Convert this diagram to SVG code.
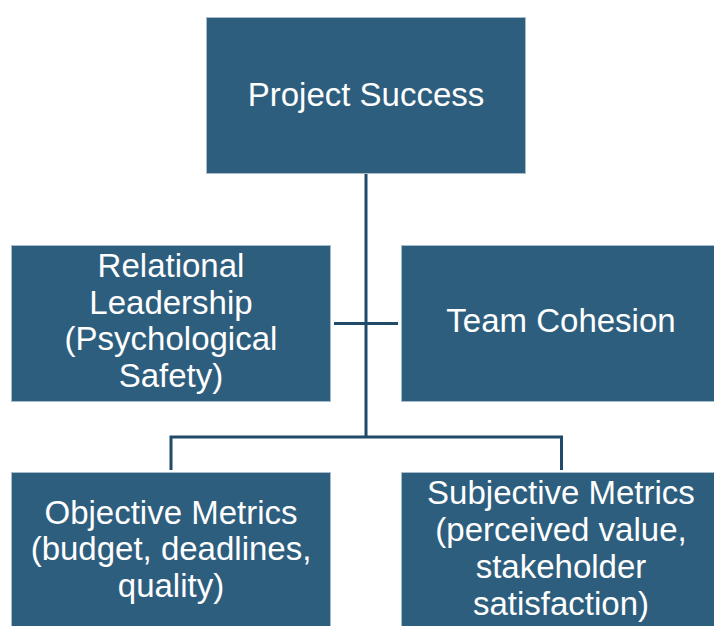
<svg xmlns="http://www.w3.org/2000/svg" width="714" height="626" viewBox="0 0 714 626">
  <style>
    .box { fill: #2e5e7e; stroke: #a9bccb; stroke-width: 1; }
    .label { fill: #ffffff; font-family: "Liberation Sans", Arial, sans-serif; font-size: 33px; text-anchor: middle; }
    .wire { fill: none; stroke: #1f4b68; stroke-width: 3; }
  </style>
  <rect width="714" height="626" fill="#ffffff"/>

  <!-- connectors -->
  <g id="connectors">
    <line class="wire" x1="366" y1="174" x2="366" y2="437"/>
    <line class="wire" x1="334" y1="323.5" x2="398" y2="323.5"/>
    <polyline class="wire" points="171,470 171,437 561.5,437 561.5,470"/>
  </g>

  <g id="project-success">
    <rect class="box" x="206.5" y="17.5" width="319" height="156"/>
    <text class="label" x="366" y="106">Project Success</text>
  </g>

  <g id="relational-leadership">
    <rect class="box" x="11.5" y="245.5" width="319" height="156"/>
    <text class="label" x="171" y="277">Relational</text>
    <text class="label" x="171" y="313.5">Leadership</text>
    <text class="label" x="171" y="350">(Psychological</text>
    <text class="label" x="171" y="386.5">Safety)</text>
  </g>

  <g id="team-cohesion">
    <rect class="box" x="401.5" y="245.5" width="320" height="156"/>
    <text class="label" x="561" y="332">Team Cohesion</text>
  </g>

  <g id="objective-metrics">
    <rect class="box" x="11.5" y="472.5" width="319" height="160"/>
    <text class="label" x="171" y="523.5">Objective Metrics</text>
    <text class="label" x="171" y="560">(budget, deadlines,</text>
    <text class="label" x="171" y="596.5">quality)</text>
  </g>

  <g id="subjective-metrics">
    <rect class="box" x="401.5" y="472.5" width="320" height="160"/>
    <text class="label" x="561" y="503.5">Subjective Metrics</text>
    <text class="label" x="561" y="540.5">(perceived value,</text>
    <text class="label" x="561" y="578">stakeholder</text>
    <text class="label" x="561" y="615">satisfaction)</text>
  </g>
</svg>
